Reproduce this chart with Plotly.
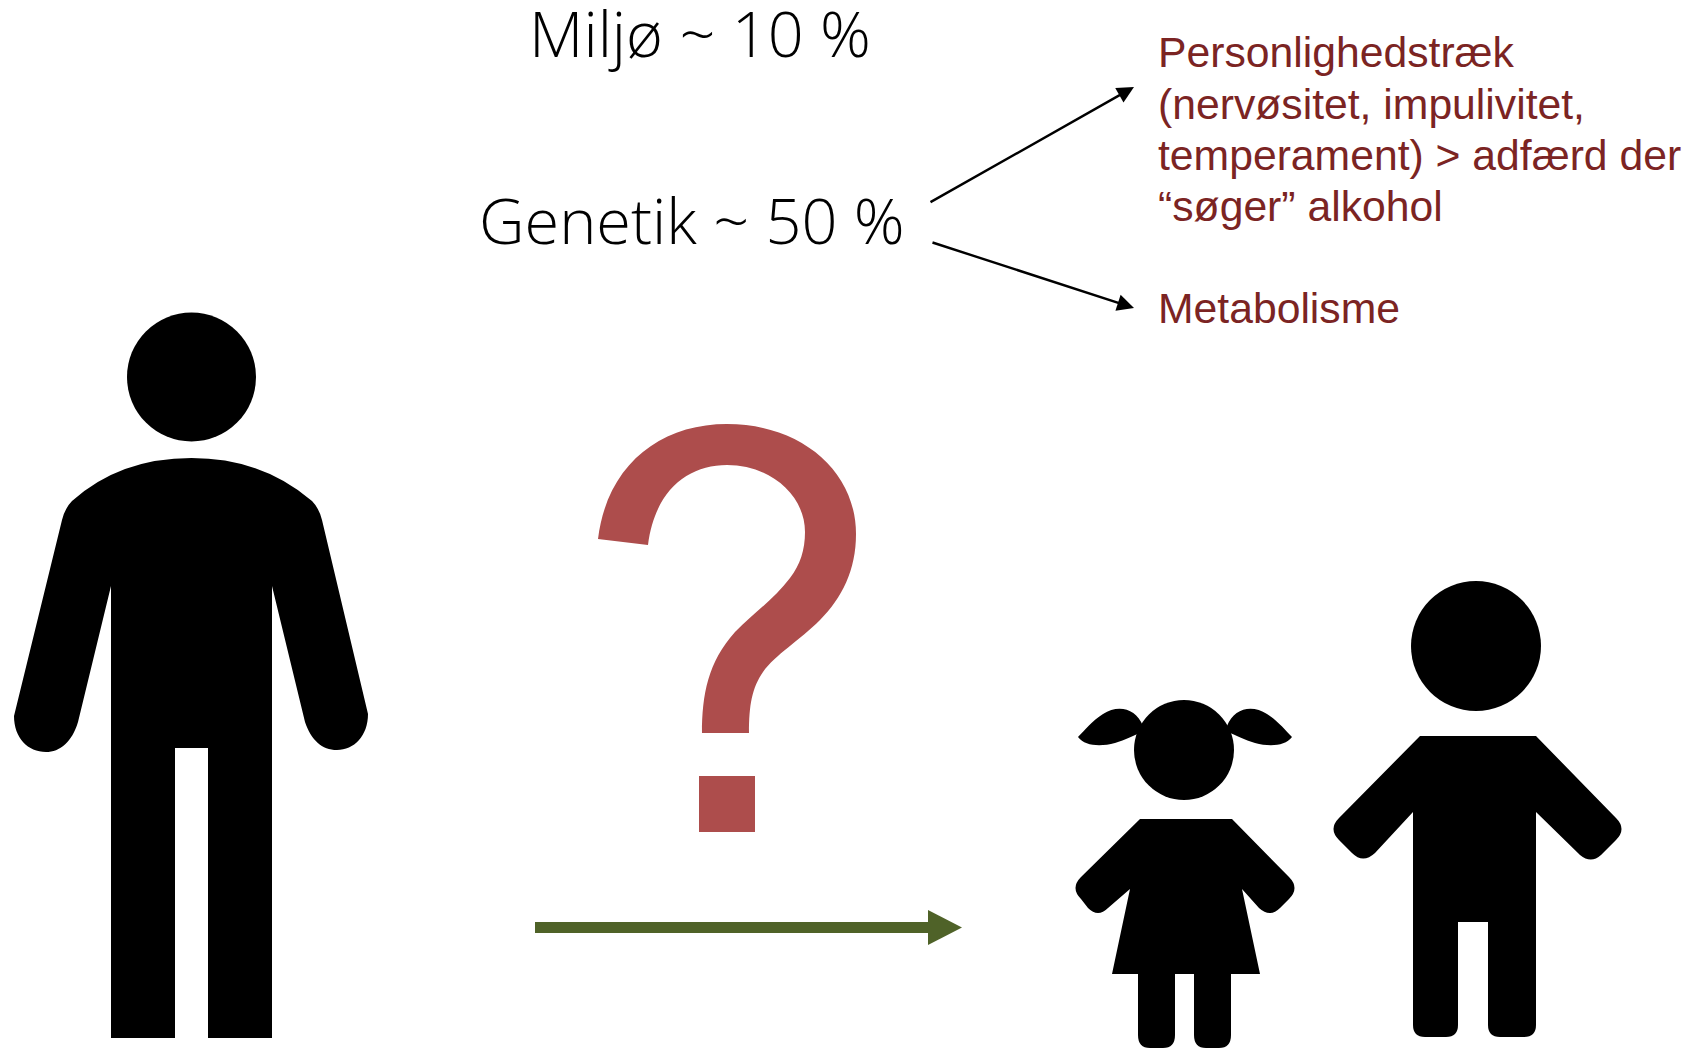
import plotly.graph_objects as go

W, H = 1691, 1048

# Text content
heading_labels = ["Miljø ~ 10 %", "Genetik ~ 50 %"]
heading_x = [527, 477]
heading_y = [32, 219]
trait_lines = ["Personlighedstræk", "(nervøsitet, impulivitet,", "temperament) > adfærd der", "“søger” alkohol", "Metabolisme"]
trait_x = [1156, 1156, 1156, 1156, 1156]
trait_y = [52, 104, 155, 206, 308]

# Arrows: [tail x, tail y, tip x, tip y]
black_arrows = [[929, 203, 1134, 87], [931, 242, 1134, 308]]

# Heads: [centre x, centre y, radius]
heads = [[191.5, 377, 64.5], [1476, 646, 65], [1184, 750, 50]]

# Outlines
adult_outline = ("M111,1038 L111,586 L78,722 C72,742 60,752 46,752 C28,752 14,738 14,716 L62,520 Q65,508 72,501 "
                 "Q120,458 191.5,458 Q262,458 312,501 Q319,508 322,520 L368,714 C368,736 354,750 337,750 "
                 "C322,750 311,740 305,722 L272,586 L272,1038 L208,1038 L208,748 L175,748 L175,1038 Z")
boy_outline = ("M1420,736 L1536,736 L1616,818 Q1627,829 1616,840 L1601,855 Q1591,864 1580,855 L1536,812 "
               "L1536,1025 Q1536,1037 1524,1037 L1500,1037 Q1488,1037 1488,1025 L1488,922 L1458,922 "
               "L1458,1025 Q1458,1037 1446,1037 L1425,1037 Q1413,1037 1413,1025 L1413,812 L1375,853 "
               "Q1363,864 1352,853 L1339,840 Q1328,829 1339,818 Z")
girl_outline = ("M1140,819 L1232,819 L1289,877 Q1300,888 1289,899 L1280,908 Q1270,918 1259,908 L1242,889 "
                "L1260,974 L1231,974 L1231,1035 Q1231,1048 1219,1048 L1206,1048 Q1194,1048 1194,1035 L1194,974 "
                "L1175,974 L1175,1035 Q1175,1048 1163,1048 L1150,1048 Q1138,1048 1138,1035 L1138,974 L1112,974 "
                "L1130,889 L1108,908 Q1098,918 1088,908 L1081,899 Q1070,888 1081,877 Z")
pigtail_left = "M1143,726 C1136,708 1118,704 1103,714 C1092,721 1085,730 1078,737 C1085,746 1100,747 1115,743 C1125,740 1135,735 1142,732 Z"
pigtail_right = "M1227,726 C1234,708 1252,704 1267,714 C1278,721 1285,730 1292,737 C1285,746 1270,747 1255,743 C1245,740 1235,735 1228,732 Z"
question_curve = ("M598,539 C607,465 660,424 727,424 C800,424 856,470 856,534 C856,570 842,598 820,620 "
                  "C800,640 775,655 763,672 C752,688 749,705 749,733 L702,733 C702,695 708,662 735,632 "
                  "C755,612 775,598 790,578 C800,565 805,550 805,532 C805,495 770,465 727,465 "
                  "C688,465 655,490 648,545 Z")
question_dot = [699, 776, 755, 832]
green_shaft = [535, 922, 928, 933]
green_head = "M928,910 L962,927.5 L928,945 Z"

BLACK = "#000000"
RED = "#AD4D4C"
GREEN = "#4F6228"
DARK_RED = "#7B2423"

fig = go.Figure()
# An invisible trace anchors the axes
fig.add_trace(go.Scatter(x=[0, W], y=[0, H], mode="markers", marker=dict(opacity=0), hoverinfo="skip", showlegend=False))

shapes = []
for cx, cy, r in heads:
    shapes.append(dict(type="circle", x0=cx - r, x1=cx + r, y0=cy - r, y1=cy + r,
                       fillcolor=BLACK, line=dict(width=0)))
for p in [adult_outline, boy_outline, girl_outline, pigtail_left, pigtail_right]:
    shapes.append(dict(type="path", path=p, fillcolor=BLACK, line=dict(width=0)))
shapes.append(dict(type="path", path=question_curve, fillcolor=RED, line=dict(width=0)))
shapes.append(dict(type="rect", x0=question_dot[0], y0=question_dot[1], x1=question_dot[2], y1=question_dot[3],
                   fillcolor=RED, line=dict(width=0)))
shapes.append(dict(type="rect", x0=green_shaft[0], y0=green_shaft[1], x1=green_shaft[2], y1=green_shaft[3],
                   fillcolor=GREEN, line=dict(width=0)))
shapes.append(dict(type="path", path=green_head, fillcolor=GREEN, line=dict(width=0)))

annotations = []
for text, x, y in zip(heading_labels, heading_x, heading_y):
    annotations.append(dict(x=x, y=y, text=text, showarrow=False, xanchor="left", yanchor="middle",
                            font=dict(family="Open Sans", size=63, color=BLACK, weight=300)))
for text, x, y in zip(trait_lines, trait_x, trait_y):
    annotations.append(dict(x=x, y=y, text=text, showarrow=False, xanchor="left", yanchor="middle",
                            font=dict(family="Liberation Sans", size=42.7, color=DARK_RED)))
for x0, y0, x1, y1 in black_arrows:
    annotations.append(dict(x=x1, y=y1, ax=x0, ay=y0, axref="x", ayref="y", xref="x", yref="y", text="",
                            showarrow=True, arrowhead=2, arrowsize=1.4, arrowwidth=2.4, arrowcolor=BLACK, standoff=0))

fig.update_layout(
    width=W, height=H, margin=dict(l=0, r=0, t=0, b=0),
    paper_bgcolor="white", plot_bgcolor="white", showlegend=False,
    xaxis=dict(range=[0, W], visible=False, fixedrange=True),
    yaxis=dict(range=[H, 0], visible=False, fixedrange=True),
    shapes=shapes, annotations=annotations,
)
fig.write_html("out.html", config=dict(displayModeBar=False),
               post_script="document.body.style.margin='0';")
